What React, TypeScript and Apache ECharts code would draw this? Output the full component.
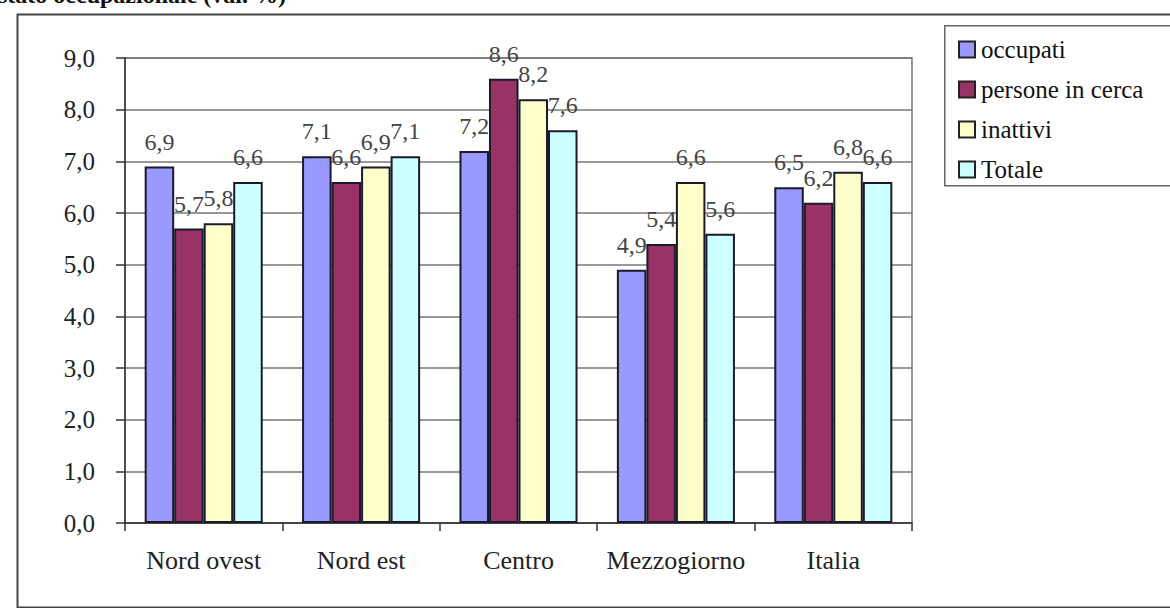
import React, { useEffect, useRef } from "react";
import * as echarts from "echarts";

const categories = ["Nord ovest", "Nord est", "Centro", "Mezzogiorno", "Italia"];
const seriesNames = ["occupati", "persone in cerca", "inattivi", "Totale"];
const occupati = [6.9, 7.1, 7.2, 4.9, 6.5];
const personeInCerca = [5.7, 6.6, 8.6, 5.4, 6.2];
const inattivi = [5.8, 6.9, 8.2, 6.6, 6.8];
const totale = [6.6, 7.1, 7.6, 5.6, 6.6];
const colors = ["#9999FF", "#993366", "#FFFFCC", "#CCFFFF"];
const yTicks = { min: 0, max: 9, interval: 1 };

const serif = "'Liberation Serif', 'Times New Roman', Times, serif";
const comma = (v: number) => v.toFixed(1).replace(".", ",");

export default function App() {
  const ref = useRef<HTMLDivElement>(null);

  useEffect(() => {
    if (!ref.current) return;
    const chart = echarts.init(ref.current, undefined, { renderer: "svg" });
    const values = [occupati, personeInCerca, inattivi, totale];

    chart.setOption({
      animation: false,
      backgroundColor: "#ffffff",
      graphic: [
        {
          type: "rect",
          left: 15,
          top: 12,
          shape: { width: 1200, height: 593 },
          style: { fill: "none", stroke: "#444", lineWidth: 2 },
          z: 0,
        },
        {
          type: "rect",
          left: 944,
          top: 25,
          shape: { width: 260, height: 160 },
          style: { fill: "#fff", stroke: "#666", lineWidth: 1.5 },
          z: 1,
        },
        {
          type: "text",
          left: -2,
          top: -17,
          style: {
            text: "stato occupazionale (val. %)",
            font: `bold 24px ${serif}`,
            fill: "#111",
          },
          z: 5,
        },
      ],
      legend: {
        orient: "vertical",
        left: 953,
        top: 32,
        itemWidth: 16,
        itemHeight: 16,
        itemGap: 15,
        icon: "rect",
        itemStyle: { borderColor: "#222", borderWidth: 2 },
        textStyle: {
          fontFamily: serif,
          fontSize: 25,
          lineHeight: 25,
          color: "#111",
          padding: [0, 0, 0, 1],
        },
        data: seriesNames,
        z: 3,
      },
      grid: {
        left: 125,
        right: 258,
        top: 58,
        bottom: 85,
        show: true,
        borderColor: "#777",
        borderWidth: 1.5,
        backgroundColor: "transparent",
      },
      xAxis: {
        type: "category",
        data: categories,
        axisLine: { lineStyle: { color: "#333", width: 1.5 } },
        axisTick: { show: true, length: 8, lineStyle: { color: "#333", width: 1.5 } },
        axisLabel: { interval: 0, fontFamily: serif, fontSize: 26, color: "#222", margin: 24 },
      },
      yAxis: {
        type: "value",
        min: yTicks.min,
        max: yTicks.max,
        interval: yTicks.interval,
        axisLine: { show: true, lineStyle: { color: "#333", width: 1.5 } },
        axisTick: { show: true, length: 9, lineStyle: { color: "#333", width: 1.5 } },
        axisLabel: {
          fontFamily: serif,
          fontSize: 25,
          color: "#222",
          margin: 30,
          formatter: (v: number) => comma(v),
        },
        splitLine: { lineStyle: { color: "#777", width: 1.5 } },
      },
      series: seriesNames.map((name, i) => ({
        name,
        type: "bar",
        data: values[i],
        barGap: "0%",
        barCategoryGap: "25%",
        itemStyle: { color: colors[i], borderColor: "#1a1a2a", borderWidth: 2 },
        label: {
          show: true,
          position: "top",
          distance: 13,
          fontFamily: serif,
          fontSize: 24,
          color: "#444",
          formatter: (p: any) => comma(p.value),
        },
      })),
    });

    return () => chart.dispose();
  }, []);

  return (
    <div
      ref={ref}
      style={{ position: "absolute", left: 0, top: 0, width: 1170, height: 608 }}
    />
  );
}
